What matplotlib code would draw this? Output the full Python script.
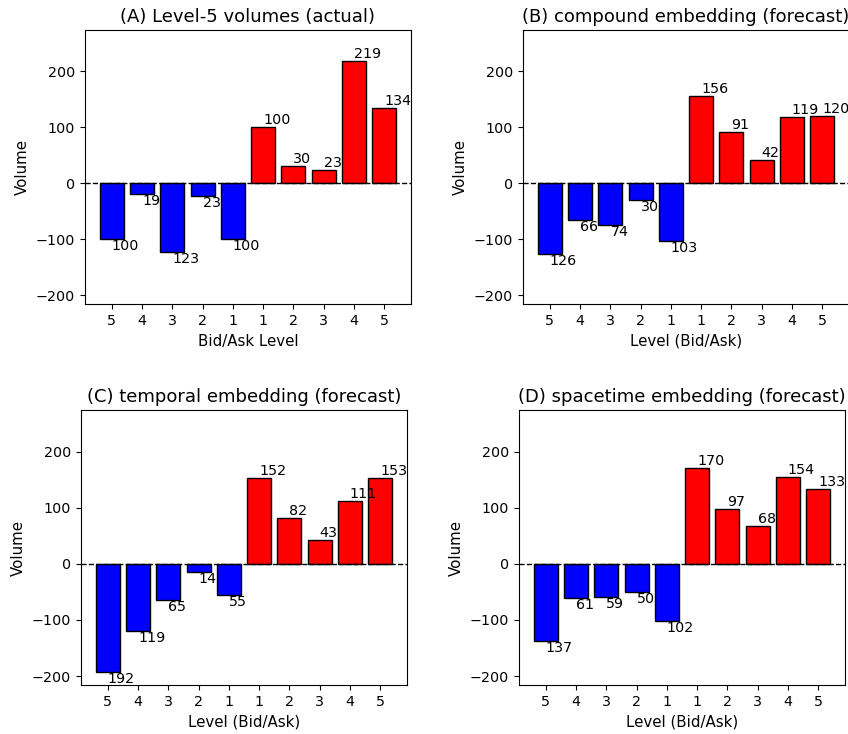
import matplotlib
matplotlib.use("Agg")
import matplotlib.pyplot as plt

# Order-book levels: five bid levels (5..1) followed by five ask levels (1..5)
level_labels = ["5", "4", "3", "2", "1", "1", "2", "3", "4", "5"]

actual = [-100, -19, -123, -23, -100, 100, 30, 23, 219, 134]
compound = [-126, -66, -74, -30, -103, 156, 91, 42, 119, 120]
temporal = [-192, -119, -65, -14, -55, 152, 82, 43, 111, 153]
spacetime = [-137, -61, -59, -50, -102, 170, 97, 68, 154, 133]

panels = [
    ("(A) Level-5 volumes (actual)", "Bid/Ask Level", actual),
    ("(B) compound embedding (forecast)", "Level (Bid/Ask)", compound),
    ("(C) temporal embedding (forecast)", "Level (Bid/Ask)", temporal),
    ("(D) spacetime embedding (forecast)", "Level (Bid/Ask)", spacetime),
]

W, H = 848, 734
fig = plt.figure(figsize=(W / 100, H / 100), dpi=100)

# axes boxes in pixels: left, top, right, bottom
boxes = [
    (85, 30, 411, 304),
    (523, 30, 849, 304),
    (81, 410, 407, 685),
    (519, 410, 845, 685),
]

for (title, xlabel, vals), (l, t, r, b) in zip(panels, boxes):
    ax = fig.add_axes([l / W, (H - b) / H, (r - l) / W, (b - t) / H])
    x = list(range(len(vals)))
    colors = ["blue" if v < 0 else "red" for v in vals]
    ax.bar(x, vals, width=0.8, color=colors, edgecolor="black", linewidth=1)
    ax.axhline(0, color="black", linestyle="--", linewidth=1)
    for xi, v in zip(x, vals):
        ax.text(xi, v, str(abs(v)), ha="left",
                va="bottom" if v > 0 else "top", fontsize=10.3)
    ax.set_xticks(x)
    ax.set_xticklabels(level_labels)
    ax.set_ylim(-216, 274)
    ax.set_yticks([-200, -100, 0, 100, 200])
    ax.tick_params(labelsize=10.3, length=3.8)
    ax.set_title(title, fontsize=13)
    ax.set_xlabel(xlabel, fontsize=10.8)
    ax.set_ylabel("Volume", fontsize=10.8)

fig.savefig("out.png", dpi=100)
